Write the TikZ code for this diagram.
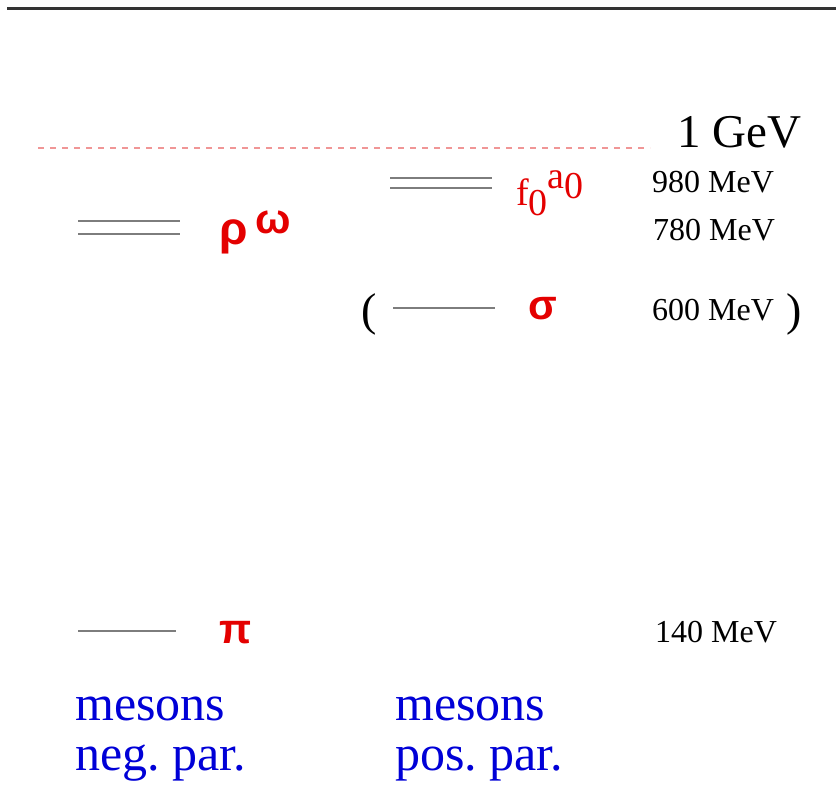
\documentclass[tikz,border=0pt]{standalone}
\usepackage{fontspec}
\setmainfont{Liberation Serif}
\newfontfamily\greekfont{Liberation Sans}
\usetikzlibrary{positioning}
\definecolor{levelred}{RGB}{228,0,0}
\definecolor{mesonblue}{RGB}{0,0,215}
\definecolor{levelgray}{RGB}{125,125,125}
\definecolor{gevpink}{RGB}{240,150,150}
\frenchspacing

\begin{document}
\begin{tikzpicture}[
    x=1pt, y=-1pt,
    % levels drawn as short horizontal bars
    level/.style={draw=levelgray, line width=2pt},
    single/.style={draw=levelgray, line width=1.2pt},
    gevline/.style={draw=gevpink, line width=1.5pt, dash pattern=on 6pt off 6pt},
    particle/.style={text=levelred, font=\greekfont\bfseries\fontsize{42}{48}\selectfont, anchor=base west, inner sep=0pt},
    mass/.style={font=\fontsize{32}{38}\selectfont, anchor=base west, inner sep=0pt},
    paren/.style={font=\fontsize{46}{50}\selectfont, anchor=base west, inner sep=0pt},
    group/.style={text=mesonblue, font=\fontsize{50}{50}\selectfont, anchor=base west, inner sep=0pt}
]
    \useasboundingbox (0,0) rectangle (836,787);

    \draw[line width=3pt, draw=black!80] (7,8.5) -- (836,8.5);
    \draw[gevline] (38,148) -- (650,148);
    \node[anchor=base west, inner sep=0pt, font=\fontsize{47}{50}\selectfont] (gev) at (677,147) {1 GeV};

    % negative parity
    \draw[level] (78,221) -- (180,221);
    \draw[level] (78,234) -- (180,234);
    \node[particle, font=\greekfont\bfseries\fontsize{46}{48}\selectfont] (rho) at (219,244) {ρ};
    \node[particle] (omega) at (255,233) {ω};

    \draw[single] (78,631) -- (176,631);
    \node[particle] (pi) at (219,643) {π};

    % positive parity
    \draw[level] (390,178) -- (492,178);
    \draw[level] (390,188) -- (492,188);
    \node[particle, font=\fontsize{38}{40}\selectfont] (fa) at (516,205)
        {f\raisebox{-10pt}{0}\raisebox{17pt}{a}\raisebox{7pt}{0}};

    \node[paren] (lpar) at (361,325) {(};
    \draw[single] (393,308) -- (495,308);
    \node[particle] (sigma) at (528,319) {σ};

    % masses
    \node[mass] (m980) at (652,192) {980 MeV};
    \node[mass] (m780) at (653,240) {780 MeV};
    \node[mass] (m600) at (652,320) {600 MeV};
    \node[paren] (rpar) at (786,325) {)};
    \node[mass] (m140) at (655,642) {140 MeV};

    \node[group] (mesneg) at (75,720) {mesons};
    \node[group] (neg) at ([yshift=-50pt]mesneg.base west) {neg. par.};
    \node[group] (mespos) at (395,720) {mesons};
    \node[group] (pos) at ([yshift=-50pt]mespos.base west) {pos. par.};
\end{tikzpicture}
\end{document}
